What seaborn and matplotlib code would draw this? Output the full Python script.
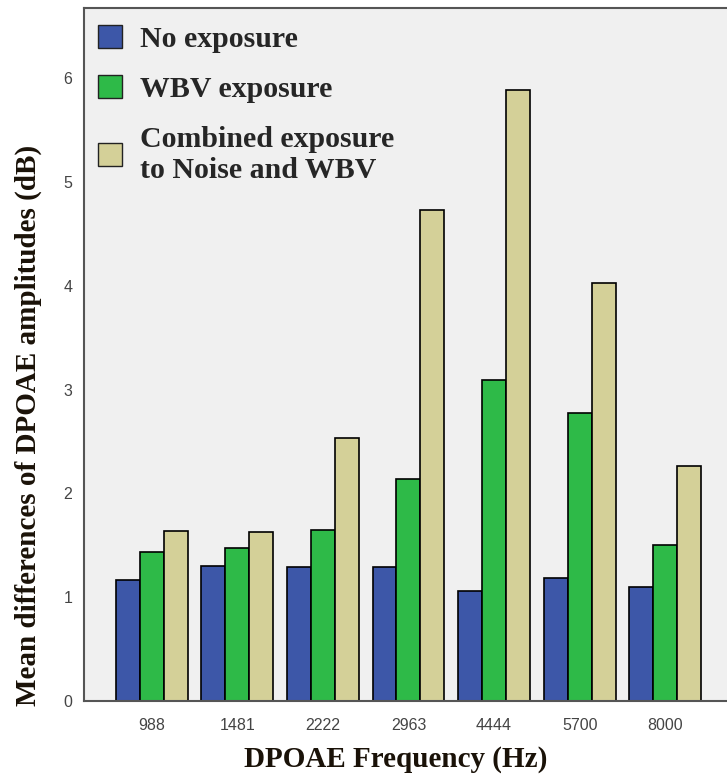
"""
Grouped bar chart of mean DPOAE amplitude differences by frequency.
"""

import matplotlib
matplotlib.use("Agg")
import matplotlib.pyplot as plt
import matplotlib.patches as mpatches
import pandas as pd
import seaborn as sns

# Data
frequencies = ["988", "1481", "2222", "2963", "4444", "5700", "8000"]
groups = ["No exposure", "WBV exposure", "Combined exposure\nto Noise and WBV"]
no_exposure = [1.17, 1.30, 1.29, 1.29, 1.06, 1.19, 1.10]
wbv_exposure = [1.44, 1.47, 1.65, 2.14, 3.09, 2.78, 1.50]
combined_exposure = [1.64, 1.63, 2.53, 4.73, 5.89, 4.03, 2.26]
colors = ["#3D57A8", "#2EBA48", "#D4D098"]

# Long-form table for seaborn
df = pd.DataFrame({
    "freq": frequencies * 3,
    "group": [g for g in groups for _ in frequencies],
    "value": no_exposure + wbv_exposure + combined_exposure,
})

sns.set_theme(style="white")
plt.rcParams["font.family"] = ["Liberation Sans", "DejaVu Sans"]

fig = plt.figure(figsize=(7.27, 7.83), dpi=100)
ax = fig.add_axes([0.1155, 0.1047, 0.8845, 0.8853])
ax.set_facecolor("#F0F0F0")

sns.barplot(
    data=df,
    x="freq",
    y="value",
    hue="group",
    order=frequencies,
    hue_order=groups,
    palette=colors,
    saturation=1,
    width=0.84,
    edgecolor="black",
    linewidth=1.2,
    legend=False,
    ax=ax,
)

ax.set_xlim(-0.79, 6.72)
ax.set_ylim(0, 6.68)
ax.set_yticks(range(0, 7))

# Spines and ticks
for side in ["left", "bottom", "top"]:
    ax.spines[side].set_color("#555555")
    ax.spines[side].set_linewidth(1.5)
ax.spines["right"].set_visible(False)
ax.tick_params(axis="both", direction="out", length=5, width=1.3,
               color="#444444", labelsize=11.5, labelcolor="#444444")
ax.tick_params(axis="x", pad=7)

label_font = dict(family=["Liberation Serif", "DejaVu Serif"],
                  fontweight="bold", fontsize=21, color="#1A1208")
ax.set_xlabel("DPOAE Frequency (Hz)", **label_font)
ax.set_ylabel("Mean differences of DPOAE amplitudes (dB)", **label_font)
ax.xaxis.set_label_coords(0.485, -0.085)
ax.yaxis.set_label_coords(-0.087, 0.398)
ax.xaxis.label.set_va("center")
ax.yaxis.label.set_va("center")

# Legend
handles = [mpatches.Patch(facecolor=c, edgecolor="#222222", linewidth=1.0)
           for c in colors]
ax.legend(
    handles,
    groups,
    loc="upper left",
    bbox_to_anchor=(0.022, 0.975),
    frameon=False,
    borderpad=0,
    borderaxespad=0,
    handlelength=0.8,
    handleheight=0.8,
    handletextpad=0.6,
    labelspacing=0.75,
    prop=dict(family=["Liberation Serif", "DejaVu Serif"], weight="bold", size=21.5),
)

fig.savefig("out.png", dpi=100, facecolor="white")
plt.close(fig)
